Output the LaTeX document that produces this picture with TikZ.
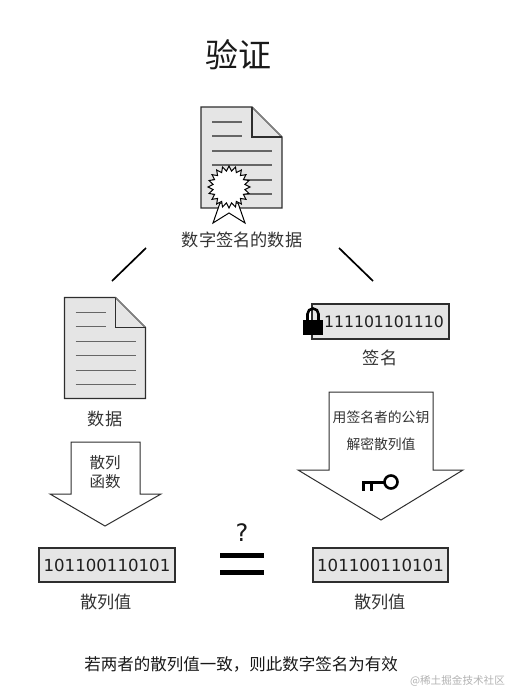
\documentclass[tikz,border=0pt]{standalone}
\usepackage{fontspec}
\setmainfont{DejaVu Sans}
\newfontfamily\cjkfont{Noto Sans CJK SC}
\usetikzlibrary{shapes.geometric}
\newcommand{\fs}[1]{\fontsize{#1}{#1}\selectfont}
\tikzset{
  x=1pt,y=-1pt,
  ink/.style={draw=black!82,line width=1.4pt,line join=miter},
  paper/.style={ink,fill=black!10},
  rowline/.style={draw=black!60,line width=1.1pt},
  label/.style={inner sep=0pt,text=black!80,font=\cjkfont\fs{17.2}},
  bitbox/.style={paper,minimum width=136pt,minimum height=34pt,inner sep=0pt,text=black!88,font=\fs{16.6}},
  bigarrow/.style={draw=black!82,line width=1pt,fill=white,line join=miter},
  stroke/.style={draw=black,line width=1.7pt},
  docpage/.pic={
    \draw[paper] (0,0) -- (51,0) -- (81,30) -- (81,101) -- (0,101) -- cycle;
    \draw[draw=black!50,line width=.8pt] (51,0) -- (81,30);
    \draw[ink] (51,0) -- (51,30) -- (81,30);
    \foreach \yy/\xe in {15/41,29/41,44/71,58/71,73/71,87/71}
      \draw[rowline] (11,\yy) -- (\xe,\yy);
  }
}
\begin{document}
\begin{tikzpicture}
\useasboundingbox (0,0) rectangle (509,690);
\node[label,font=\cjkfont\fs{33},text=black!90] (title) at (238,55) {验证};

% signed document
\pic at (201,107) {docpage};
\draw[draw=black,line width=1pt,fill=white,line join=miter] (220,203) -- (213,223) -- (229,213) -- (245,223) -- (238,203) -- cycle;
\node[star,star points=20,star point ratio=1.3,minimum size=42pt,inner sep=0pt,draw=black,line width=1pt,fill=white] (seal) at (229,187) {};
\node[label] (signed) at (242,240) {数字签名的数据};

% split strokes
\coordinate (la) at (146,248); \coordinate (lb) at (112,281);
\coordinate (ra) at (339,248); \coordinate (rb) at (373,281);
\draw[stroke] (la) -- (lb);
\draw[stroke] (ra) -- (rb);

% data
\pic at (64.5,297.5) {docpage};
\node[label] (data) at (105,419) {数据};

% left arrow
\draw[bigarrow] (71,442) -- (140,442) -- (140,494) -- (161,494) -- (105,526) -- (50,494) -- (71,494) -- cycle;
\node[label,font=\cjkfont\fs{15.5}] (hash1) at (105,463) {散列};
\node[label,font=\cjkfont\fs{15.5}] (hash2) at (105,482) {函数};

% signature
\node[bitbox,minimum width=137pt,minimum height=35pt] (sig) at (380.5,321.5) {};
\node[inner sep=0pt,font=\fs{15.7},text=black!88] (sigbits) at (384,321.5) {111101101110};
\draw[draw=black,line width=2.6pt] (307.5,322) -- (307.5,314) arc[start angle=180,end angle=360,radius=5.5] -- (318.5,322);
\fill[black] (303,320) rectangle (323,335);
\node[label] (signame) at (380,358) {签名};

% right arrow
\draw[bigarrow] (329,392) -- (433,392) -- (433,470) -- (463,470) -- (381,520) -- (298,470) -- (329,470) -- cycle;
\node[label,font=\cjkfont\fs{13.8}] (dec1) at (381,417) {用签名者的公钥};
\node[label,font=\cjkfont\fs{13.8}] (dec2) at (381,444) {解密散列值};

% key
\draw[draw=black,line width=2.6pt] (391,482) circle[radius=6.5];
\draw[draw=black,line width=3pt] (384.5,482) -- (362,482);
\draw[draw=black,line width=3pt] (363.5,482) -- (363.5,491);
\draw[draw=black,line width=3pt] (371,482) -- (371,491);

% hash values
\node[bitbox] (hl) at (107,565) {101100110101};
\node[bitbox,minimum width=135pt] (hr) at (380.5,565) {101100110101};
\node[label] (hln) at (106,602) {散列值};
\node[label] (hrn) at (380,602) {散列值};

% comparison
\node[inner sep=0pt,font=\fs{24},text=black!90] (q) at (242,533) {?};
\fill[black] (220,552.5) rectangle (264,557.5);
\fill[black] (220,570) rectangle (264,575);

\node[label,font=\cjkfont\fs{16.5},text=black!90] (verdict) at (241,664) {若两者的散列值一致，则此数字签名为有效};
\node[inner sep=0pt,text=black!30,font=\cjkfont\fs{10.6}] (mark) at (457.5,681) {@稀土掘金技术社区};
\end{tikzpicture}
\end{document}
